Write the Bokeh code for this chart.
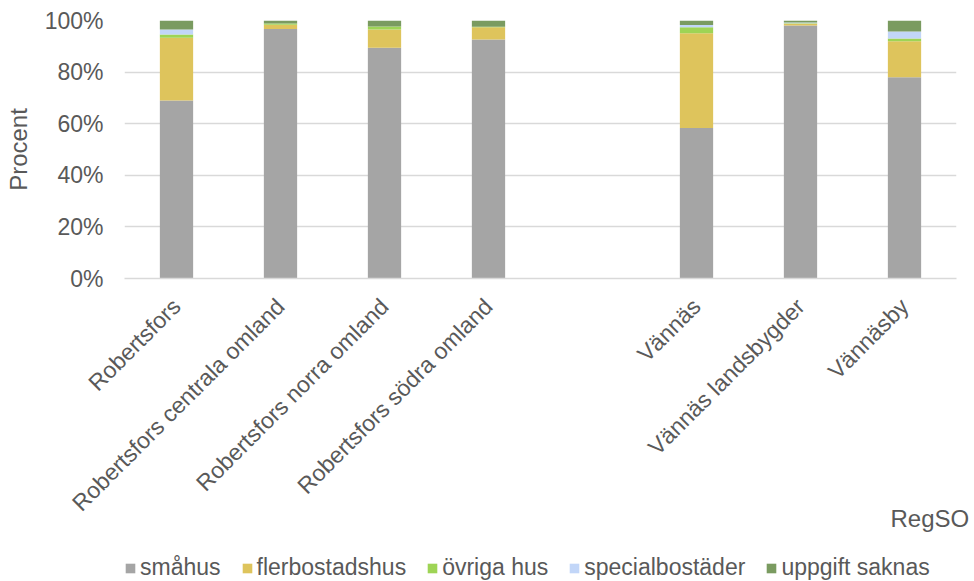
from bokeh.plotting import figure
from bokeh.models import ColumnDataSource, Legend, LegendItem, PrintfTickFormatter, FactorRange
from bokeh.layouts import column
from bokeh.embed import file_html
from bokeh.resources import INLINE
import math

# Categories (a blank slot separates the two municipalities)
categories = ["Robertsfors", "Robertsfors centrala omland", "Robertsfors norra omland",
              "Robertsfors södra omland", " ", "Vännäs", "Vännäs landsbygder", "Vännäsby"]

# Share of dwellings per building type, percent
smahus = [69.0, 96.7, 89.4, 92.6, 0.0, 58.3, 98.1, 78.0]
flerbostadshus = [24.3, 1.7, 7.1, 4.8, 0.0, 36.8, 0.6, 14.0]
ovriga_hus = [1.3, 0.4, 1.2, 0.2, 0.0, 2.3, 0.2, 1.0]
specialbostader = [1.9, 0.0, 0.0, 0.0, 0.0, 0.9, 0.3, 2.7]
uppgift_saknas = [3.5, 1.2, 2.3, 2.4, 0.0, 1.7, 0.8, 4.3]

series_keys = ["smahus", "fler", "ovriga", "special", "saknas"]
series_names = ["småhus", "flerbostadshus", "övriga hus", "specialbostäder", "uppgift saknas"]
colors = ["#A5A5A5", "#DEC45C", "#9ED455", "#C2D6F8", "#7A9B60"]
y_ticks = [0, 20, 40, 60, 80, 100]

source = ColumnDataSource(dict(cat=categories, smahus=smahus, fler=flerbostadshus,
                               ovriga=ovriga_hus, special=specialbostader, saknas=uppgift_saknas))

FONT = "Liberation Sans"
TXT = "#595959"
FS = "23px"
FS_TITLE = "24px"

# ---- main chart -------------------------------------------------------------
p = figure(x_range=FactorRange(*categories), y_range=(0, 100), width=974, height=535,
           output_backend="svg", toolbar_location=None,
           min_border_left=124, min_border_right=18, min_border_top=20, min_border_bottom=0)
p.outline_line_color = None

p.vbar_stack(series_keys, x="cat", width=0.32, source=source, color=colors, line_color=None)

# Y axis
p.yaxis.ticker = y_ticks
p.yaxis.formatter = PrintfTickFormatter(format="%d%%")
p.yaxis.axis_line_color = None
p.yaxis.major_tick_line_color = None
p.yaxis.minor_tick_line_color = None
p.yaxis.major_tick_out = 0
p.yaxis.major_label_standoff = 21
p.yaxis.axis_label = "Procent"
p.yaxis.axis_label_standoff = 10

# X axis with slanted category names; the title sits at the right end
# (the label is centred on the axis end, so no-break spaces pull it inwards)
p.xaxis.axis_line_color = "#D9D9D9"
p.xaxis.axis_line_width = 1.5
p.xaxis.major_tick_line_color = None
p.xaxis.minor_tick_line_color = None
p.xaxis.major_tick_out = 0
p.xaxis.major_label_orientation = math.pi / 4
p.xaxis.major_label_standoff = 24
p.xaxis.axis_label = "RegSO" + "\u00a0" * 8
p.xaxis.axis_label_standoff = -23
p.xaxis.axis_label_align = "end"

for ax in (p.xaxis, p.yaxis):
    ax.major_label_text_font = FONT
    ax.major_label_text_font_size = FS
    ax.major_label_text_color = TXT
    ax.axis_label_text_font = FONT
    ax.axis_label_text_font_size = FS_TITLE
    ax.axis_label_text_color = TXT
    ax.axis_label_text_font_style = "normal"

p.xgrid.grid_line_color = None
p.ygrid.grid_line_color = "#D9D9D9"
p.ygrid.grid_line_width = 1.5

# ---- legend strip -----------------------------------------------------------
# Same stacked bars, scrolled out of view; only their legend entries show.
lg = figure(width=974, height=46, output_backend="svg", toolbar_location=None,
            x_range=FactorRange(*categories), y_range=(1000, 1001), min_border=0,
            x_axis_location=None, y_axis_location=None)
lg.grid.visible = False
lg.outline_line_color = None
lg_renderers = lg.vbar_stack(series_keys, x="cat", width=0.32, source=source,
                             color=colors, line_color=None)

legend = Legend(items=[LegendItem(label=n, renderers=[r]) for n, r in zip(series_names, lg_renderers)],
                orientation="horizontal", location=(0, 0),
                label_text_font=FONT, label_text_font_size=FS, label_text_color=TXT,
                glyph_width=12, glyph_height=12, label_standoff=4, spacing=20,
                label_height=24, padding=0, margin=0,
                border_line_color=None, background_fill_alpha=0)
lg.add_layout(legend)

layout = column(p, lg, spacing=0)
open("out.html", "w").write(file_html(layout, INLINE))
